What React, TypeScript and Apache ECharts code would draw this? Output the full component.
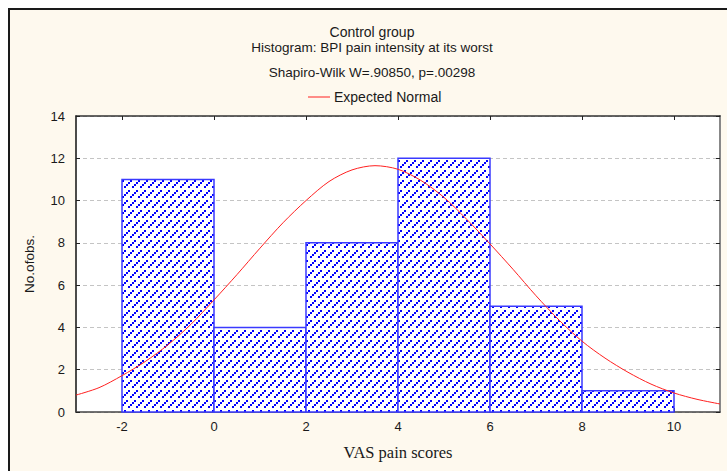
import React, { useEffect, useRef } from "react";
import * as echarts from "echarts";

// Histogram bins (VAS pain scores) and counts
const binStarts = [-2, 0, 2, 4, 6, 8];
const binEnds = [0, 2, 4, 6, 8, 10];
const counts = [11, 4, 8, 12, 5, 1];

// Expected normal curve
const curveX = [-3, -2.5, -2, -1.5, -1, -0.5, 0, 0.5, 1, 1.5, 2, 2.5, 3, 3.5, 4, 4.5, 5, 5.5, 6, 6.5, 7, 7.5, 8, 8.5, 9, 9.5, 10, 10.5, 11];
const curveY = [0.8, 1.15, 1.72, 2.38, 3.18, 4.15, 5.3, 6.5, 7.75, 8.95, 10.0, 10.9, 11.45, 11.65, 11.48, 10.95, 10.15, 9.1, 7.95, 6.75, 5.5, 4.35, 3.35, 2.55, 1.88, 1.32, 0.9, 0.6, 0.38];

const xTicks = [-2, 0, 2, 4, 6, 8, 10];

const titleLines = [
  "Control group",
  "Histogram: BPI pain intensity at its worst",
  "Shapiro-Wilk W=.90850, p=.00298",
];
const legendLabel = "Expected Normal";
const xName = "VAS pain scores";
const yName = "No.ofobs.";

function makePattern(): HTMLCanvasElement {
  const size = 40;
  const c = document.createElement("canvas");
  c.width = size;
  c.height = size;
  const ctx = c.getContext("2d")!;
  ctx.fillStyle = "#ffffff";
  ctx.fillRect(0, 0, size, size);
  ctx.fillStyle = "#0000ff";
  for (let i = 0; i < size / 2; i++) {
    for (let j = 0; j < size / 2; j++) {
      if ((i + j) % 4 === 3 && j % 5 !== 4) ctx.fillRect(i * 2, j * 2, 2, 2);
    }
  }
  return c;
}

export default function App() {
  const ref = useRef<HTMLDivElement>(null);
  useEffect(() => {
    if (!ref.current) return;
    const chart = echarts.init(ref.current, null, { renderer: "svg" });
    const patternCanvas = makePattern();
    const pattern: any = { image: patternCanvas, repeat: "repeat", imageWidth: 40, imageHeight: 40 };
    const font = "'Liberation Sans', Arial, sans-serif";
    const txt = "#1a1a1a";

    const barData = binStarts.map((s, i) => [s, binEnds[i], counts[i]]);
    const curveData = curveX.map((x, i) => [x, curveY[i]]);

    const t = (text: string, x: number, y: number, size: number, align: string) => ({
      type: "text",
      x,
      y,
      style: { text, fontSize: size, fontFamily: font, fill: txt, textAlign: align, textVerticalAlign: "middle" },
    });

    chart.setOption({
      animation: false,
      backgroundColor: "#ffffff",
      textStyle: { fontFamily: font },
      graphic: [
        {
          type: "rect",
          z: -100,
          silent: true,
          shape: { x: 9, y: 9, width: 760, height: 500 },
          style: { fill: "#fef9ee", stroke: "#1a1a1a", lineWidth: 2 },
        },
        t(titleLines[0], 372, 32, 14, "center"),
        t(titleLines[1], 372, 47, 13.5, "center"),
        t(titleLines[2], 372, 72, 13.5, "center"),
        {
          type: "line",
          shape: { x1: 308, y1: 97, x2: 330, y2: 97 },
          style: { stroke: "#ff2020", lineWidth: 1 },
        },
        t(legendLabel, 334, 97, 14, "left"),
      ],
      grid: {
        left: 76,
        top: 116,
        right: 7,
        bottom: 59,
        show: true,
        backgroundColor: "#ffffff",
        borderWidth: 0,
        containLabel: false,
      },
      xAxis: [
        {
          type: "value",
          position: "bottom",
          min: -3,
          max: 11,
          axisLine: { show: true, lineStyle: { color: "#444", width: 1.5 } },
          axisTick: { show: true, inside: true, length: 4, customValues: xTicks, lineStyle: { color: "#222" } },
          axisLabel: { customValues: xTicks, fontSize: 13, color: txt, margin: 8, fontFamily: font },
          splitLine: { show: false },
          name: xName,
          nameLocation: "middle",
          nameGap: 32,
          nameTextStyle: { fontFamily: "'Liberation Serif', 'Times New Roman', serif", fontSize: 16.5, color: txt },
        },
        {
          type: "value",
          position: "top",
          min: -3,
          max: 11,
          axisLine: { show: true, onZero: false, lineStyle: { color: "#333", width: 1.5 } },
          axisTick: { show: true, inside: true, length: 4, customValues: xTicks, lineStyle: { color: "#222" } },
          axisLabel: { show: false },
          splitLine: { show: false },
        },
      ],
      yAxis: [
        {
          type: "value",
          position: "left",
          min: 0,
          max: 14,
          interval: 2,
          axisLine: { show: true, onZero: false, lineStyle: { color: "#111", width: 1.5 } },
          axisTick: { show: true, inside: true, length: 4, lineStyle: { color: "#222" } },
          axisLabel: { fontSize: 13, color: txt, margin: 11, fontFamily: font },
          splitLine: { show: true, lineStyle: { color: "#c4c4c4", type: [4, 3], width: 1 } },
          name: yName,
          nameLocation: "middle",
          nameGap: 40,
          nameTextStyle: { fontSize: 13.5, color: txt, fontFamily: font },
        },
        {
          type: "value",
          position: "right",
          min: 0,
          max: 14,
          interval: 2,
          axisLine: { show: true, onZero: false, lineStyle: { color: "#888", width: 2 } },
          axisTick: { show: true, inside: true, length: 4, lineStyle: { color: "#222" } },
          axisLabel: { show: false },
          splitLine: { show: false },
        },
      ],
      series: [
        {
          type: "custom",
          xAxisIndex: 0,
          yAxisIndex: 0,
          encode: { x: [0, 1], y: 2 },
          data: barData,
          z: 3,
          renderItem: (params: any, api: any) => {
            const s = api.value(0);
            const e = api.value(1);
            const c = api.value(2);
            const p0 = api.coord([s, c]);
            const p1 = api.coord([e, 0]);
            return {
              type: "rect",
              shape: { x: p0[0], y: p0[1], width: p1[0] - p0[0], height: p1[1] - p0[1] },
              style: { fill: pattern, stroke: "#3a3aff", lineWidth: 1.5 },
            };
          },
        },
        {
          type: "line",
          xAxisIndex: 0,
          yAxisIndex: 0,
          data: curveData,
          smooth: 0.3,
          showSymbol: false,
          symbol: "none",
          z: 5,
          lineStyle: { color: "#ff2020", width: 1 },
        },
      ],
    });
    return () => chart.dispose();
  }, []);
  return (
    <div
      ref={ref}
      style={{ position: "absolute", left: 0, top: 0, width: 727, height: 471 }}
    />
  );
}
